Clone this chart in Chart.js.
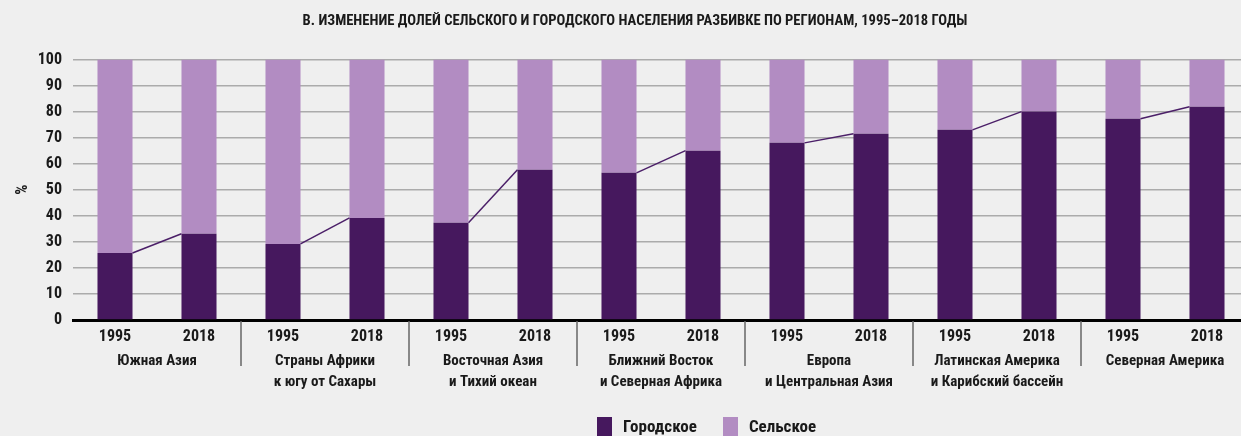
<!DOCTYPE html>
<html>
<head>
    <meta charset="UTF-8">
    <title>Городское и сельское население</title>
    <script src="https://cdn.jsdelivr.net/npm/chart.js"></script>
    <style>
        body { margin: 0; background: #efefef; overflow: hidden; }
        #wrap { position: relative; width: 1270px; height: 436px; }
        #legend { position: absolute; left: 597px; top: 417px; display: flex; font: bold 17px "Liberation Sans Narrow", "Roboto Condensed", "DejaVu Sans Condensed", sans-serif; color: #1a1a1a; }
        #legend .item { display: flex; align-items: flex-start; margin-right: 26px; line-height: 19px; }
        #legend .box { width: 15px; height: 19px; margin-right: 11px; }
    </style>
</head>
<body>
<div id="wrap">
    <canvas id="myChart" width="1270" height="436"></canvas>
    <div id="legend"></div>
</div>

<script>
    // данные
    const years = ['1995', '2018', '1995', '2018', '1995', '2018', '1995', '2018', '1995', '2018', '1995', '2018', '1995', '2018'];
    const regions = [
        ['Южная Азия'],
        ['Страны Африки', 'к югу от Сахары'],
        ['Восточная Азия', 'и Тихий океан'],
        ['Ближний Восток', 'и Северная Африка'],
        ['Европа', 'и Центральная Азия'],
        ['Латинская Америка', 'и Карибский бассейн'],
        ['Северная Америка']
    ];
    const urban = [25.7, 33.1, 29.2, 39.2, 37.3, 57.7, 56.5, 65, 68, 71.5, 73, 80, 77.3, 81.9];
    const rural = [74.3, 66.9, 70.8, 60.8, 62.7, 42.3, 43.5, 35, 32, 28.5, 27, 20, 22.7, 18.1];
    const yTicks = [0, 10, 20, 30, 40, 50, 60, 70, 80, 90, 100];

    const DARK = '#46185e';
    const LIGHT = '#b28cc2';
    const FONT = '"Liberation Sans Narrow", "Roboto Condensed", "DejaVu Sans Condensed", sans-serif';

    // линии между столбцами 1995 и 2018 + разделители регионов
    const extras = {
        id: 'extras',
        afterDatasetsDraw(chart) {
            const c = chart.ctx;
            const meta = chart.getDatasetMeta(0);
            const xs = chart.scales.x;
            const bottom = chart.chartArea.bottom;
            c.save();
            c.strokeStyle = '#4b1f68';
            c.lineWidth = 1.5;
            for (let g = 0; g < regions.length; g++) {
                const a = meta.data[2 * g], b = meta.data[2 * g + 1];
                c.beginPath();
                c.moveTo(a.x + a.width / 2, a.y);
                c.lineTo(b.x - b.width / 2, b.y);
                c.stroke();
            }
            c.strokeStyle = '#666';
            c.lineWidth = 1.5;
            for (let g = 1; g < regions.length; g++) {
                const x = (xs.getPixelForValue(2 * g - 1) + xs.getPixelForValue(2 * g)) / 2;
                c.beginPath();
                c.moveTo(x, bottom + 1);
                c.lineTo(x, bottom + 46);
                c.stroke();
            }
            c.restore();
        }
    };

    const ctx = document.getElementById('myChart').getContext('2d');
    const myChart = new Chart(ctx, {
        type: 'bar',
        data: {
            labels: years,
            datasets: [
                { label: 'Городское', data: urban, backgroundColor: DARK, barPercentage: 0.417, categoryPercentage: 1 },
                { label: 'Сельское', data: rural, backgroundColor: LIGHT, barPercentage: 0.417, categoryPercentage: 1 }
            ]
        },
        options: {
            responsive: false,
            animation: false,
            layout: { padding: { top: 0, bottom: 43, left: 0, right: 0 } },
            plugins: {
                legend: { display: false },
                tooltip: { enabled: false },
                title: {
                    display: true,
                    text: 'В. ИЗМЕНЕНИЕ ДОЛЕЙ СЕЛЬСКОГО И ГОРОДСКОГО НАСЕЛЕНИЯ РАЗБИВКЕ ПО РЕГИОНАМ, 1995–2018 ГОДЫ',
                    color: '#1a1a1a',
                    font: { family: FONT, size: 14.6, weight: 'bold', lineHeight: 1.2 },
                    padding: { top: 13, bottom: 29 }
                }
            },
            scales: {
                x: {
                    stacked: true,
                    offset: true,
                    weight: 0,
                    grid: { display: false, drawTicks: false },
                    border: { display: true, color: '#000', width: 3 },
                    ticks: { color: '#1a1a1a', padding: 7, maxRotation: 0, autoSkip: false,
                             font: { family: FONT, size: 16, weight: 'bold', lineHeight: 1.2 } },
                    afterFit(s) { s.height = 26; }
                },
                x2: {
                    type: 'category',
                    position: 'bottom',
                    labels: regions,
                    offset: true,
                    weight: 1,
                    grid: { display: false, drawTicks: false },
                    border: { display: false },
                    ticks: { color: '#1a1a1a', padding: 5, maxRotation: 0, autoSkip: false,
                             font: { family: FONT, size: 15, weight: 'bold', lineHeight: 1.4 } },
                    afterFit(s) { s.height = 47; }
                },
                y: {
                    stacked: true,
                    min: 0,
                    max: 100,
                    afterBuildTicks(s) { s.ticks = yTicks.map(v => ({ value: v })); },
                    grid: {
                        drawTicks: false,
                        color: c => c.tick && c.tick.value === 0 ? 'rgba(0,0,0,0)' : '#ababab',
                        lineWidth: 1.5
                    },
                    border: { display: false },
                    ticks: { color: '#1a1a1a', padding: 11,
                             font: { family: FONT, size: 16, weight: 'bold' } },
                    title: {
                        display: true,
                        text: '%',
                        color: '#1a1a1a',
                        font: { family: FONT, size: 16, weight: 'bold', lineHeight: 1.2 },
                        padding: { top: 13, bottom: 0 }
                    },
                    afterFit(s) { s.width = 73; }
                },
                yr: {
                    type: 'linear',
                    position: 'right',
                    display: true,
                    grid: { display: false, drawTicks: false },
                    border: { display: false },
                    ticks: { display: false },
                    afterFit(s) { s.width = 21; }
                }
            }
        },
        plugins: [extras]
    });

    // легенда из наборов данных
    const legend = document.getElementById('legend');
    myChart.data.datasets.forEach(ds => {
        const item = document.createElement('div');
        item.className = 'item';
        const box = document.createElement('span');
        box.className = 'box';
        box.style.background = ds.backgroundColor;
        const txt = document.createElement('span');
        txt.textContent = ds.label;
        item.appendChild(box);
        item.appendChild(txt);
        legend.appendChild(item);
    });
</script>
</body>
</html>
